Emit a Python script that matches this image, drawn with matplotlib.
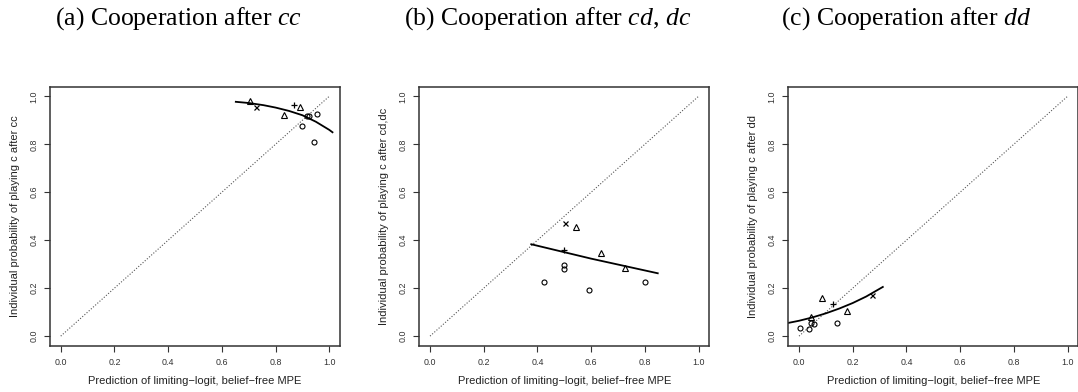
import matplotlib
matplotlib.use("Agg")
import matplotlib.pyplot as plt

plt.rcParams['font.family'] = ['Liberation Sans', 'DejaVu Sans']
plt.rcParams['mathtext.fontset'] = 'custom'
plt.rcParams['mathtext.rm'] = 'Liberation Serif'
plt.rcParams['mathtext.it'] = 'Liberation Serif:italic'

# panel titles and y labels
titles = ["(a) Cooperation after $cc$",
          "(b) Cooperation after $cd,\\,dc$",
          "(c) Cooperation after $dd$"]
ylabels = ["Individual probability of playing c after cc",
           "Individual probability of playing c after cd,dc",
           "Individual probability of playing c after dd"]
xlabel = "Prediction of limiting\u2212logit, belief\u2212free MPE"
tick_vals = [0.0, 0.2, 0.4, 0.6, 0.8, 1.0]
tick_labels = ["0.0", "0.2", "0.4", "0.6", "0.8", "1.0"]

# (a) after cc
cc_circ_x = [0.916, 0.924, 0.955, 0.900, 0.943]
cc_circ_y = [0.916, 0.916, 0.925, 0.878, 0.809]
cc_tri_x = [0.704, 0.830, 0.892]
cc_tri_y = [0.982, 0.923, 0.956]
cc_plus_x = [0.870]
cc_plus_y = [0.962]
cc_cross_x = [0.727]
cc_cross_y = [0.956]
cc_fit_x = [0.652, 0.70, 0.755, 0.80, 0.85, 0.90, 0.95, 1.00, 1.012]
cc_fit_y = [0.977, 0.972, 0.963, 0.953, 0.939, 0.921, 0.894, 0.860, 0.850]

# (b) after cd,dc
cd_circ_x = [0.499, 0.499, 0.425, 0.593, 0.802]
cd_circ_y = [0.295, 0.278, 0.224, 0.192, 0.224]
cd_tri_x = [0.543, 0.636, 0.727]
cd_tri_y = [0.457, 0.346, 0.283]
cd_plus_x = [0.499]
cd_plus_y = [0.359]
cd_cross_x = [0.502]
cd_cross_y = [0.473]
cd_fit_x = [0.377, 0.60, 0.848]
cd_fit_y = [0.383, 0.323, 0.262]

# (c) after dd
dd_circ_x = [0.003, 0.037, 0.044, 0.056, 0.141]
dd_circ_y = [0.032, 0.029, 0.053, 0.050, 0.053]
dd_tri_x = [0.044, 0.085, 0.178]
dd_tri_y = [0.081, 0.157, 0.106]
dd_plus_x = [0.128]
dd_plus_y = [0.134]
dd_cross_x = [0.272]
dd_cross_y = [0.171]
dd_fit_x = [-0.04, 0.0, 0.05, 0.10, 0.15, 0.20, 0.25, 0.312]
dd_fit_y = [0.055, 0.064, 0.078, 0.095, 0.115, 0.138, 0.165, 0.205]

panels = [
    (cc_circ_x, cc_circ_y, cc_tri_x, cc_tri_y, cc_plus_x, cc_plus_y, cc_cross_x, cc_cross_y, cc_fit_x, cc_fit_y),
    (cd_circ_x, cd_circ_y, cd_tri_x, cd_tri_y, cd_plus_x, cd_plus_y, cd_cross_x, cd_cross_y, cd_fit_x, cd_fit_y),
    (dd_circ_x, dd_circ_y, dd_tri_x, dd_tri_y, dd_plus_x, dd_plus_y, dd_cross_x, dd_cross_y, dd_fit_x, dd_fit_y),
]

W, H = 1078, 392
fig = plt.figure(figsize=(W / 100, H / 100), dpi=100)

box_lefts = [50, 419.3, 788.3]
box_w = 290
box_top, box_bot = 86.7, 345.7
title_x = [178, 548, 906]

mk = dict(linestyle='none', color='black', markerfacecolor='none')
for i, p in enumerate(panels):
    cx, cy, tx, ty, px, py, xx, xy, fx, fy = p
    ax = fig.add_axes([box_lefts[i] / W, 1 - box_bot / H, box_w / W, (box_bot - box_top) / H])
    ax.plot([0, 1], [0, 1], color='#555555', linewidth=0.8, linestyle=(0, (1, 1.6)))
    ax.plot(fx, fy, color='black', linewidth=1.3)
    ax.plot(cx, cy, marker='o', markersize=3.6, markeredgewidth=0.8, **mk)
    ax.plot(tx, ty, marker='^', markersize=4.4, markeredgewidth=0.8, **mk)
    ax.plot(px, py, marker='+', markersize=5, markeredgewidth=0.9, **mk)
    ax.plot(xx, xy, marker='x', markersize=3.6, markeredgewidth=0.9, **mk)
    ax.set_xlim(-0.04, 1.04)
    ax.set_ylim(-0.04, 1.04)
    ax.set_xticks(tick_vals)
    ax.set_xticklabels(tick_labels)
    ax.set_yticks(tick_vals)
    ax.set_yticklabels(tick_labels, rotation=90, va='center')
    ax.tick_params(axis='both', length=4, width=0.8, labelsize=6.4, colors='#333333')
    ax.tick_params(axis='x', pad=5)
    ax.tick_params(axis='y', pad=4.5)
    for s in ax.spines.values():
        s.set_linewidth(1.1)
        s.set_color('#333333')
    ax.set_xlabel(xlabel, fontsize=8, va='center', color='#222222')
    ax.xaxis.set_label_coords(0.5, -0.136)
    ax.set_ylabel(ylabels[i], fontsize=8, va='center', color='#222222')
    ax.yaxis.set_label_coords(-0.121, 0.5)
    fig.text(title_x[i] / W, 1 - 25 / H, titles[i], ha='center', va='baseline',
             fontsize=18.5, family='Liberation Serif')

fig.savefig("out.png", dpi=100)
